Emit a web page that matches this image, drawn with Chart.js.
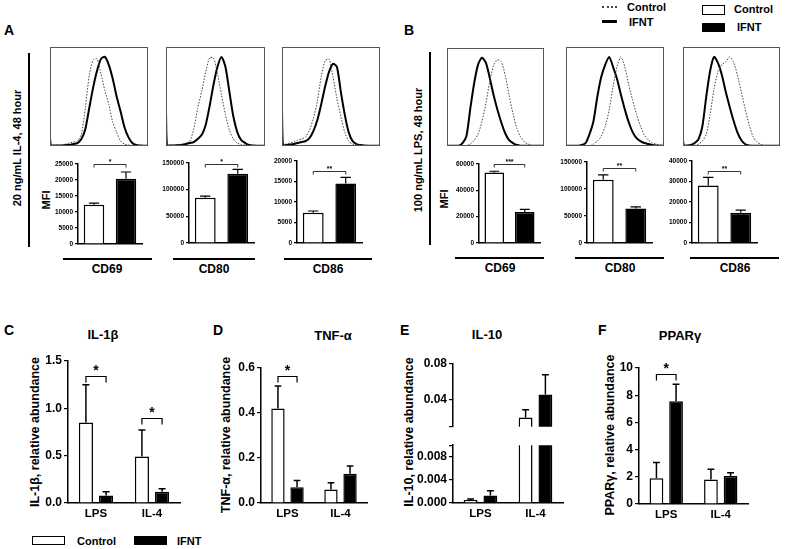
<!DOCTYPE html>
<html>
<head>
<meta charset="utf-8">
<script src="https://cdn.jsdelivr.net/npm/chart.js@4"></script>
<style>
body{margin:0;background:#fff;width:787px;height:549px;position:relative;overflow:hidden;font-family:"Liberation Sans",Arial,sans-serif;font-weight:bold;color:#000}
.box{position:absolute}
.t{position:absolute;white-space:nowrap;line-height:1}
.ln{position:absolute;background:#000}
</style>
</head>
<body>
<script>
/* ====================== Data ====================== */
// flow histograms: % of max along the fluorescence axis (0-100)
const histX = [0,1,4,8,12,16,20,24,28,32,36,40,44,48,52,56,60,64,68,72,76,80,84,88,92,96,100];
const il4Cd69Ctrl = [8,1,1,1,1,2,3,4,5,12,38,71,87,88,73,56,42,24,14,5,2,1,0.5,0.5,0.3,0.3,0.3];
const il4Cd69Ifnt = [8,0.5,0.5,0.5,0.5,1,1,2,3,7,17,38,59,76,88,90,82,68,50,35,19,9,3,1,0.5,0.3,0.3];
const il4Cd80Ctrl = [35,1,1,1,1.5,2,3,5,17,38,55,74,89,89,73,52,32,16,7,3,1.5,1,0.5,0.5,0.3,0.3,0.3];
const il4Cd80Ifnt = [35,0.5,0.5,0.5,1,1,2,3,4,7,11,21,40,62,80,90,80,55,30,14,6,3,1,0.5,0.3,0.3,0.3];
const il4Cd86Ctrl = [36,2,2,3,4,6,7,9,16,28,45,70,86,88,70,48,30,14,5,2,1,0.5,0.5,0.3,0.3,0.3,0.3];
const il4Cd86Ifnt = [36,1,1,1.5,2,3,4,5,8,15,26,42,60,75,83,80,55,32,14,5,2,1,0.5,0.3,0.3,0.3,0.3];
const lpsCd69Ctrl = [0.3,0.3,0.3,0.3,0.3,0.3,0.3,2,6,12,25,43,65,82,88,86,72,52,33,18,9,4,2,0.5,0.3,0.3,0.3];
const lpsCd69Ifnt = [0.3,0.3,0.3,0.3,0.3,3,10,38,64,83,90,85,70,52,37,24,13,6,3,1,0.3,0.3,0.3,0.3,0.3,0.3,0.3];
const lpsCd80Ctrl = [0.3,0.3,0.3,0.3,0.3,0.3,0.3,0.3,2,5,10,20,36,60,80,90,80,62,46,32,20,11,6,3,2,1,3];
const lpsCd80Ifnt = [0.3,0.3,0.3,0.3,0.3,1,3,12,25,50,70,82,90,80,68,52,37,24,14,8,5,3,2,1,0.5,0.3,0.3];
const lpsCd86Ctrl = [5,0.5,0.5,0.5,0.5,2,5,12,32,58,75,82,85,90,85,72,55,38,22,10,4,2,0.5,0.3,0.3,0.3,0.3];
const lpsCd86Ifnt = [5,0.5,0.5,1,3,7,20,50,76,90,84,72,55,40,26,14,6,2,0.5,0.3,0.3,0.3,0.3,0.3,0.3,0.3,0.3];

// MFI bars: [Control, IFNT] and their SEM
const mfiLabels = ['Control', 'IFNT'];
const il4Cd69 = [12300, 20400], il4Cd69Sem = [500, 2100];
const il4Cd80 = [85000, 130000], il4Cd80Sem = [3000, 8000];
const il4Cd86 = [7400, 14500], il4Cd86Sem = [400, 1500];
const lpsCd69 = [53500, 23500], lpsCd69Sem = [1000, 2000];
const lpsCd80 = [117000, 64000], lpsCd80Sem = [9000, 3000];
const lpsCd86 = [28000, 14800], lpsCd86Sem = [4000, 1200];

// relative abundance, categories LPS / IL-4
const geneCats = ['LPS', 'IL-4'];
const il1bCtrl = [0.85, 0.49], il1bCtrlSem = [0.40, 0.28];
const il1bIfnt = [0.08, 0.12], il1bIfntSem = [0.04, 0.03];
const tnfCtrl = [0.42, 0.06], tnfCtrlSem = [0.10, 0.03];
const tnfIfnt = [0.07, 0.13], tnfIfntSem = [0.03, 0.035];
const il10Ctrl = [0.0005, 0.0205], il10CtrlSem = [0.0002, 0.0085];
const il10Ifnt = [0.0013, 0.046], il10IfntSem = [0.0008, 0.022];
const pparCtrl = [1.9, 1.8], pparCtrlSem = [1.15, 0.75];
const pparIfnt = [7.55, 2.05], pparIfntSem = [1.25, 0.25];

/* ====================== Chart setup ====================== */
const FONT = '"Liberation Sans", Arial, sans-serif';
Chart.defaults.font.family = FONT;
Chart.defaults.font.weight = 'bold';
Chart.defaults.color = '#000';
Chart.defaults.animation = false;
Chart.defaults.plugins.legend.display = false;
Chart.defaults.plugins.tooltip.enabled = false;

// error bars (upper only) read from dataset.sem
const errPlugin = {
  id: 'errbars',
  afterDatasetsDraw(chart, args, opts) {
    const ctx = chart.ctx, ys = chart.scales.y, a = chart.chartArea;
    ctx.save();
    ctx.beginPath();
    ctx.rect(a.left - 2, a.top - 2, a.right - a.left + 4, a.bottom - a.top + 2);
    ctx.clip();
    chart.data.datasets.forEach((ds, di) => {
      if (!ds.sem) return;
      chart.getDatasetMeta(di).data.forEach((bar, i) => {
        const top = ys.getPixelForValue(ds.data[i] + ds.sem[i]);
        const cap = bar.width * 0.25;
        ctx.strokeStyle = '#000';
        ctx.lineWidth = opts.width || 1.5;
        ctx.beginPath();
        ctx.moveTo(bar.x, bar.y); ctx.lineTo(bar.x, top);
        ctx.moveTo(bar.x - cap, top); ctx.lineTo(bar.x + cap, top);
        ctx.stroke();
      });
    });
    ctx.restore();
  }
};

// significance brackets
const sigPlugin = {
  id: 'sig',
  afterDatasetsDraw(chart, args, opts) {
    if (!opts.marks) return;
    const ctx = chart.ctx, ys = chart.scales.y;
    opts.marks.forEach(m => {
      const b1 = chart.getDatasetMeta(m.a[0]).data[m.a[1]];
      const b2 = chart.getDatasetMeta(m.b[0]).data[m.b[1]];
      const y = Math.round(ys.getPixelForValue(m.level)) + 0.5;
      ctx.save();
      ctx.strokeStyle = '#000';
      ctx.lineWidth = opts.width || 1;
      ctx.beginPath();
      ctx.moveTo(b1.x, y + opts.leg); ctx.lineTo(b1.x, y); ctx.lineTo(b2.x, y); ctx.lineTo(b2.x, y + opts.leg);
      ctx.stroke();
      ctx.fillStyle = '#000';
      ctx.font = opts.font;
      ctx.textAlign = 'center';
      ctx.textBaseline = 'alphabetic';
      ctx.fillText(m.text, (b1.x + b2.x) / 2, y - opts.gap);
      ctx.restore();
    });
  }
};

// frame round the histogram plots
const framePlugin = {
  id: 'frame',
  afterDraw(chart, args, opts) {
    if (!opts.color) return;
    const a = chart.chartArea, ctx = chart.ctx;
    ctx.save();
    ctx.strokeStyle = opts.color;
    ctx.lineWidth = 1;
    ctx.strokeRect(a.left + 0.5, a.top + 0.5, a.right - a.left - 1, a.bottom - a.top - 1);
    ctx.restore();
  }
};
Chart.register(errPlugin, sigPlugin, framePlugin);

/* ====================== Helpers ====================== */
function place(plot, axisW, axisH, padT, padR) {
  const d = document.createElement('div');
  d.className = 'box';
  d.style.left = (plot[0] - axisW) + 'px';
  d.style.top = (plot[1] - padT) + 'px';
  d.style.width = (plot[2] - plot[0] + axisW + padR) + 'px';
  d.style.height = (plot[3] - plot[1] + padT + axisH) + 'px';
  const c = document.createElement('canvas');
  d.appendChild(c);
  document.body.appendChild(d);
  return c;
}
function txt(s, x, y, size, align, rot) {
  const e = document.createElement('div');
  e.className = 't';
  e.textContent = s;
  e.style.left = x + 'px';
  e.style.top = y + 'px';
  e.style.fontSize = size + 'px';
  e.style.transform = 'translate(' + (align === 'left' ? '0' : '-50%') + ',-50%)' + (rot ? ' rotate(-90deg)' : '');
  document.body.appendChild(e);
}
function line(x, y, w, h) {
  const e = document.createElement('div');
  e.className = 'ln';
  e.style.left = x + 'px'; e.style.top = y + 'px';
  e.style.width = w + 'px'; e.style.height = h + 'px';
  document.body.appendChild(e);
  return e;
}
function yAxis(min, max, step, size, fmt, width, tickLen) {
  return {
    min, max,
    ticks: { stepSize: step, font: { size, weight: 'bold' }, color: '#000', padding: 2, callback: fmt },
    grid: { drawOnChartArea: false, drawTicks: true, tickLength: tickLen, color: '#000', lineWidth: 1.2 },
    border: { display: true, color: '#000', width: 1.5 },
    afterFit(s) { s.width = width; }
  };
}
function xAxis(show, size, height, border) {
  return {
    offset: true,
    ticks: { display: show, font: { size, weight: 'bold' }, color: '#000', padding: 4 },
    grid: { display: true, drawOnChartArea: false, drawTicks: false },
    border: { display: border !== false, color: '#000', width: 1.5 },
    afterFit(s) { s.height = height; }
  };
}

function histChart(plot, ctrl, ifnt) {
  const c = place(plot, 0, 0, 0, 0);
  new Chart(c, {
    type: 'line',
    data: {
      datasets: [
        { data: histX.map((x, i) => ({ x, y: ctrl[i] })), borderColor: '#444', borderWidth: 1, borderDash: [1.5, 1.5], pointRadius: 0, tension: 0.25 },
        { data: histX.map((x, i) => ({ x, y: ifnt[i] })), borderColor: '#000', borderWidth: 2, pointRadius: 0, tension: 0.25 }
      ]
    },
    options: {
      responsive: true, maintainAspectRatio: false,
      layout: { padding: 0 },
      scales: {
        x: { type: 'linear', min: 0, max: 100, display: false },
        y: { min: 0, max: 100, display: false }
      },
      plugins: { frame: { color: '#555' } }
    }
  });
}

function mfiChart(plot, vals, sem, max, step, level, stars) {
  const c = place(plot, 28, 6, 16, 4);
  new Chart(c, {
    type: 'bar',
    data: {
      labels: mfiLabels,
      datasets: [{ data: vals, sem, backgroundColor: ['#fff', '#000'], borderColor: '#000', borderWidth: 1.5, barPercentage: 0.64, categoryPercentage: 1 }]
    },
    options: {
      responsive: true, maintainAspectRatio: false,
      layout: { padding: { top: 16, right: 4, left: 0, bottom: 0 } },
      scales: { x: xAxis(false, 6, 6), y: yAxis(0, max, step, 6.5, v => String(v), 28, 3) },
      plugins: {
        errbars: { width: 1.2 },
        sig: { marks: [{ a: [0, 0], b: [0, 1], level, text: stars }], leg: 3, gap: 1, width: 0.8, font: 'bold 7px ' + FONT }
      }
    }
  });
}

function geneChart(plot, ctrl, ctrlSem, ifnt, ifntSem, y, marks, opt) {
  opt = opt || {};
  const axisH = opt.axisH !== undefined ? opt.axisH : 22;
  const padT = opt.padT !== undefined ? opt.padT : 10;
  const c = place(plot, 44, axisH, padT, 6);
  new Chart(c, {
    type: 'bar',
    data: {
      labels: geneCats,
      datasets: [
        { data: ctrl, sem: ctrlSem, backgroundColor: '#fff', borderColor: '#000', borderWidth: 1.5, barPercentage: 0.7, categoryPercentage: 0.72 },
        { data: ifnt, sem: ifntSem, backgroundColor: '#000', borderColor: '#000', borderWidth: 1.5, barPercentage: 0.7, categoryPercentage: 0.72 }
      ]
    },
    options: {
      responsive: true, maintainAspectRatio: false,
      layout: { padding: { top: padT, right: 6, left: 0, bottom: 0 } },
      scales: {
        x: opt.noX ? { display: false, offset: true } : xAxis(true, 11.5, axisH),
        y: Object.assign(yAxis(y.min, y.max, y.step, 12, y.fmt, 44, 4), y.ticks ? { afterBuildTicks(s) { s.ticks = y.ticks.map(v => ({ value: v })); } } : {})
      },
      plugins: {
        errbars: { width: 1.5 },
        sig: { marks: marks, leg: 6, gap: 2, width: 1.2, font: 'bold 14px ' + FONT }
      }
    }
  });
}

/* ====================== Panels A / B ====================== */
txt('A', 4, 30, 14, 'left');
txt('B', 404, 30, 14, 'left');
line(28, 53, 2, 194);
line(429, 52, 2, 193);
txt('20 ng/mL IL-4, 48 hour', 17, 148, 11, 'center', true);
txt('100 ng/mL LPS, 48 hour', 418, 150, 11, 'center', true);
txt('MFI', 46, 200, 11, 'center', true);
txt('MFI', 444, 199, 11, 'center', true);

histChart([50, 47, 148, 146], il4Cd69Ctrl, il4Cd69Ifnt);
histChart([166, 47, 265, 146], il4Cd80Ctrl, il4Cd80Ifnt);
histChart([282, 47, 380, 146], il4Cd86Ctrl, il4Cd86Ifnt);
histChart([447, 48, 544, 146], lpsCd69Ctrl, lpsCd69Ifnt);
histChart([566, 47, 664, 146], lpsCd80Ctrl, lpsCd80Ifnt);
histChart([683, 47, 780, 146], lpsCd86Ctrl, lpsCd86Ifnt);

mfiChart([78, 164, 142, 244], il4Cd69, il4Cd69Sem, 25000, 5000, 25000, '*');
mfiChart([189, 163, 254, 243], il4Cd80, il4Cd80Sem, 150000, 50000, 148000, '*');
mfiChart([297, 161, 362, 243], il4Cd86, il4Cd86Sem, 20000, 5000, 17500, '**');
mfiChart([479, 164, 540, 243], lpsCd69, lpsCd69Sem, 60000, 20000, 60000, '***');
mfiChart([587, 162, 652, 243], lpsCd80, lpsCd80Sem, 150000, 50000, 139000, '**');
mfiChart([692, 161, 757, 243], lpsCd86, lpsCd86Sem, 40000, 10000, 35000, '**');

[[63, 152], [173, 255], [284, 372]].forEach(s => line(s[0], 258, s[1] - s[0], 1.5));
[[455, 544], [575, 664], [690, 779]].forEach(s => line(s[0], 257, s[1] - s[0], 1.5));
txt('CD69', 107, 269, 12); txt('CD80', 214, 269, 12); txt('CD86', 328, 269, 12);
txt('CD69', 500, 268, 12); txt('CD80', 620, 268, 12); txt('CD86', 735, 268, 12);

// top legends
const dl = line(602, 6, 15, 0); dl.style.background = 'none'; dl.style.borderTop = '2px dotted #444';
line(602, 20, 15, 3);
txt('Control', 627, 7, 11, 'left');
txt('IFNT', 629, 22, 11, 'left');
const wb = line(702, 5, 21, 8); wb.style.background = '#fff'; wb.style.border = '1px solid #000';
line(702, 23, 23, 9);
txt('Control', 734, 9, 11, 'left');
txt('IFNT', 737, 27, 11, 'left');

/* ====================== Panels C - F ====================== */
txt('C', 4, 330, 14, 'left');
txt('D', 213, 330, 14, 'left');
txt('E', 400, 330, 14, 'left');
txt('F', 598, 330, 14, 'left');
txt('IL-1β', 103, 334, 13);
txt('TNF-α', 333, 335, 13);
txt('IL-10', 487, 334, 13);
txt('PPARγ', 680, 335, 13);
txt('IL-1β, relative abundance', 35, 432, 12.5, 'center', true);
txt('TNF-α, relative abundance', 226, 435, 12.5, 'center', true);
txt('IL-10, relative abundance', 409, 432, 12.5, 'center', true);
txt('PPARγ, relative abundance', 610, 435, 12.5, 'center', true);

geneChart([68, 361, 180, 503], il1bCtrl, il1bCtrlSem, il1bIfnt, il1bIfntSem,
  { min: 0, max: 1.5, step: 0.5, fmt: v => v.toFixed(1) },
  [{ a: [0, 0], b: [1, 0], level: 1.34, text: '*' }, { a: [0, 1], b: [1, 1], level: 0.90, text: '*' }]);
geneChart([261, 368, 367, 503], tnfCtrl, tnfCtrlSem, tnfIfnt, tnfIfntSem,
  { min: 0, max: 0.6, step: 0.2, fmt: v => v.toFixed(1) },
  [{ a: [0, 0], b: [1, 0], level: 0.564, text: '*' }]);
// broken axis for IL-10: upper and lower segments
geneChart([453, 364, 563, 436], il10Ctrl, il10CtrlSem, il10Ifnt, il10IfntSem,
  { min: 0.01, max: 0.08, fmt: v => (v === 0.01 ? '' : v.toFixed(2)), ticks: [0.01, 0.04, 0.08] },
  [], { noX: true, axisH: 0 });
geneChart([453, 440, 563, 503], il10Ctrl, il10CtrlSem, il10Ifnt, il10IfntSem,
  { min: 0, max: 0.01, fmt: v => (v === 0.01 ? '' : v.toFixed(3)), ticks: [0, 0.004, 0.008, 0.01] },
  [], { padT: 4 });
geneChart([639, 368, 748, 504], pparCtrl, pparCtrlSem, pparIfnt, pparIfntSem,
  { min: 0, max: 10, step: 2, fmt: v => String(v) },
  [{ a: [0, 0], b: [1, 0], level: 9.56, text: '*' }]);

// bottom legend
const wb2 = line(32, 536, 33, 9); wb2.style.background = '#fff'; wb2.style.border = '1px solid #000'; wb2.style.boxSizing = 'border-box';
line(134, 536, 33, 9);
txt('Control', 77, 541, 11, 'left');
txt('IFNT', 177, 541, 11, 'left');
</script>
</body>
</html>
